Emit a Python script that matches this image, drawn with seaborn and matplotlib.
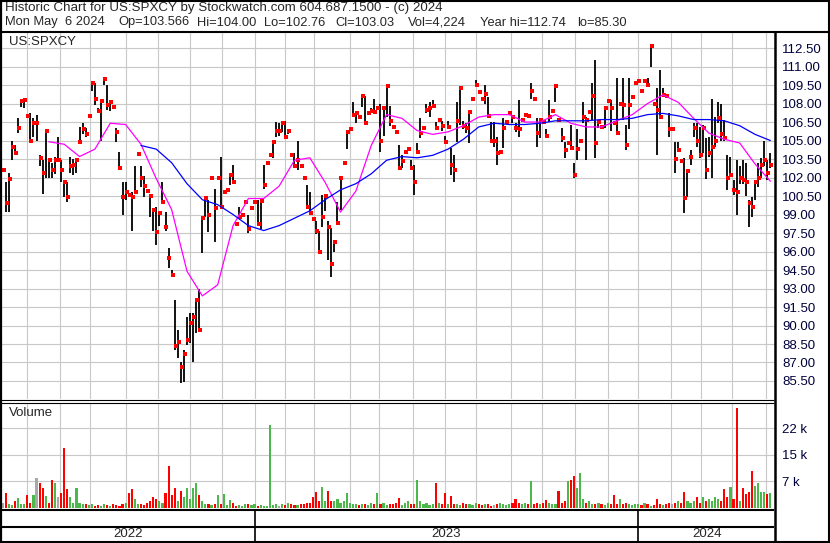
import numpy as np
import pandas as pd
import matplotlib
matplotlib.use("Agg")
import matplotlib.pyplot as plt
from matplotlib.lines import Line2D
import seaborn as sns

# exchange holidays inside the window (no sessions on these days)
HOLIDAYS = ["2022-05-30", "2022-06-20", "2022-07-04", "2022-09-05", "2022-11-24",
            "2022-12-26", "2023-01-02", "2023-01-16", "2023-02-20", "2023-04-07",
            "2023-05-29", "2023-06-19", "2023-07-04", "2023-09-04", "2023-11-23",
            "2023-12-25", "2024-01-01", "2024-01-15", "2024-02-19", "2024-03-29"]
FIRST_DAY = "2022-05-06"
LAST_DAY = "2024-05-06"

# one bar per two sessions left to right
HIGH = [102.6, 101.6, 102.4, 105.0, 104.6, 106.8, 108.4, 108.4, 107.0, 107.2,
        106.8, 107.1, 103.8, 103.4, 105.9, 103.4, 103.2, 103.7, 105.3, 103.4,
        101.8, 101.6, 103.7, 103.5, 103.6, 106.1, 106.4, 106.0, 107.0, 109.7,
        109.7, 107.6, 108.4, 110.0, 109.5, 108.1, 107.7, 106.0, 104.1, 101.6,
        101.6, 100.6, 100.8, 102.9, 103.9, 102.9, 102.1, 100.9, 100.5, 99.4,
        99.6, 99.1, 101.6, 99.2, 96.3, 94.5, 92.1, 89.6, 87.0, 88.0,
        90.7, 91.0, 91.0, 92.2, 93.0, 98.7, 100.3, 100.2, 102.0, 101.1,
        102.0, 103.7, 100.8, 101.0, 102.4, 103.0, 98.2, 99.6, 99.0, 100.0,
        99.0, 99.5, 100.0, 100.2, 100.2, 103.0, 103.2, 103.8, 104.9, 106.5,
        106.4, 106.5, 106.6, 105.9, 103.8, 104.0, 105.0, 102.9, 102.0, 101.4,
        100.8, 98.6, 98.5, 97.7, 100.6, 100.5, 98.5, 97.9, 96.9, 100.0,
        102.0, 103.3, 105.7, 105.9, 108.1, 107.2, 106.9, 108.7, 108.6, 107.2,
        107.6, 108.4, 107.6, 108.0, 107.6, 109.4, 107.8, 106.1, 105.7, 104.6,
        103.8, 104.1, 104.3, 103.4, 103.0, 104.8, 106.8, 106.0, 108.0, 108.1,
        108.3, 106.5, 106.7, 106.6, 105.4, 106.6, 104.4, 103.8, 108.1, 109.3,
        106.6, 106.4, 107.3, 108.4, 109.9, 108.9, 108.4, 109.5, 108.5, 106.5,
        106.5, 105.3, 104.1, 106.8, 106.5, 107.2, 107.0, 106.4, 108.3, 106.7,
        107.1, 107.0, 109.7, 108.4, 106.8, 106.7, 106.5, 105.9, 108.3, 107.4,
        109.4, 106.7, 106.0, 104.9, 104.8, 106.3, 103.2, 105.9, 105.0, 108.1,
        106.9, 107.3, 109.7, 111.5, 106.6, 106.1, 107.7, 108.2, 108.3, 106.4,
        110.1, 108.0, 110.1, 106.3, 110.1, 108.5, 109.7, 109.8, 109.0, 109.8,
        110.1, 112.74, 108.0, 109.3, 110.7, 109.3, 108.6, 107.2, 105.9, 104.9,
        104.9, 103.3, 103.6, 102.5, 104.2, 106.4, 106.4, 106.1, 106.3, 105.2,
        105.3, 108.4, 106.9, 108.1, 108.0, 106.7, 103.8, 103.7, 101.8, 103.4,
        102.9, 103.4, 103.2, 100.2, 100.4, 101.6, 103.2, 103.6, 105.0, 103.4, 104.0]
LOW = [102.6, 99.2, 99.2, 103.4, 104.0, 105.6, 107.7, 107.6, 107.0, 104.8,
       105.3, 105.0, 102.9, 100.7, 102.0, 102.0, 102.0, 102.3, 103.4, 101.6,
       100.4, 100.0, 102.4, 102.2, 102.4, 104.8, 105.5, 105.3, 107.0, 109.0,
       107.9, 107.2, 105.0, 109.5, 107.5, 107.4, 107.7, 104.9, 102.8, 99.0,
       100.2, 100.6, 97.7, 100.8, 103.9, 101.2, 100.4, 100.9, 98.8, 97.7,
       96.5, 98.1, 99.9, 97.7, 94.7, 94.1, 88.0, 87.4, 85.3, 85.4,
       88.4, 88.6, 87.0, 89.4, 89.6, 95.9, 98.8, 97.6, 102.0, 96.8,
       102.0, 99.6, 100.8, 101.0, 101.4, 101.6, 98.2, 98.6, 99.0, 100.0,
       97.5, 99.5, 100.0, 98.1, 97.8, 101.1, 103.2, 103.8, 103.6, 105.3,
       105.4, 105.7, 105.2, 105.5, 103.8, 102.9, 102.6, 102.9, 102.0, 99.5,
       99.1, 98.6, 97.4, 96.0, 98.0, 99.3, 95.3, 93.9, 96.0, 98.3,
       99.4, 103.0, 104.3, 105.9, 106.9, 106.4, 106.9, 107.7, 106.4, 107.2,
       107.3, 107.2, 107.6, 104.1, 105.4, 106.9, 106.2, 106.1, 105.7, 102.6,
       102.8, 104.1, 104.3, 102.6, 100.6, 103.9, 105.2, 106.0, 107.2, 106.9,
       107.6, 105.9, 106.7, 105.8, 104.7, 105.9, 102.2, 101.6, 104.9, 106.3,
       105.9, 105.6, 104.8, 108.4, 109.5, 108.9, 108.4, 108.0, 106.9, 104.9,
       104.5, 103.0, 104.1, 104.4, 106.5, 107.2, 106.4, 105.7, 105.3, 106.7,
       107.1, 107.0, 108.4, 108.4, 104.5, 105.2, 106.5, 105.3, 106.5, 107.4,
       108.1, 106.7, 104.9, 103.6, 104.8, 104.4, 102.0, 103.4, 105.0, 106.4,
       103.4, 107.3, 106.7, 103.6, 106.0, 106.1, 106.0, 108.2, 105.8, 106.4,
       105.6, 108.0, 106.7, 104.2, 105.9, 108.5, 109.7, 109.8, 109.0, 109.8,
       109.5, 111.0, 108.0, 103.8, 106.8, 108.7, 108.6, 105.3, 105.9, 102.4,
       104.2, 103.3, 99.1, 100.4, 103.0, 105.3, 104.5, 103.6, 104.0, 101.9,
       103.7, 102.0, 104.5, 106.4, 105.0, 105.0, 101.0, 102.2, 100.6, 99.0,
       101.5, 101.5, 100.5, 98.0, 98.8, 100.2, 101.2, 102.0, 102.9, 101.8, 102.76]
CLOSE = [102.6, 99.9, 101.9, 104.5, 104.0, 106.0, 108.2, 108.3, 107.0, 105.0,
         106.4, 106.4, 103.6, 102.4, 105.8, 103.4, 102.6, 103.4, 103.4, 102.6,
         101.6, 100.4, 102.9, 103.0, 103.4, 104.9, 105.9, 105.5, 107.0, 109.7,
         108.4, 107.4, 108.2, 110.0, 107.9, 108.1, 107.7, 105.7, 102.8, 100.4,
         100.8, 100.6, 100.4, 100.8, 103.9, 102.0, 101.3, 100.9, 100.5, 99.4,
         97.6, 99.1, 100.0, 98.0, 95.5, 94.1, 88.3, 88.7, 86.6, 87.7,
         88.8, 90.2, 90.7, 92.1, 89.6, 98.7, 100.3, 99.0, 102.0, 99.5,
         102.0, 99.6, 100.8, 101.0, 102.2, 101.6, 98.2, 98.8, 99.0, 100.0,
         97.8, 99.5, 100.0, 98.2, 100.1, 101.4, 103.2, 103.8, 104.9, 105.8,
         105.8, 106.4, 105.3, 105.8, 103.8, 102.9, 103.4, 102.9, 102.0, 99.6,
         99.1, 98.6, 97.7, 96.0, 98.8, 100.5, 98.0, 95.0, 96.8, 98.3,
         102.0, 103.2, 105.7, 105.9, 107.1, 107.2, 106.9, 108.6, 106.4, 107.2,
         107.4, 107.3, 107.6, 105.0, 107.6, 109.4, 106.6, 106.1, 105.7, 102.8,
         103.3, 104.1, 104.3, 102.8, 101.6, 104.1, 105.6, 106.0, 107.5, 107.6,
         107.8, 106.0, 106.7, 106.2, 104.9, 106.1, 103.0, 102.6, 106.6, 109.3,
         106.2, 106.0, 107.3, 108.4, 109.5, 108.9, 108.4, 108.8, 107.0, 105.0,
         105.0, 104.0, 104.1, 106.0, 106.5, 107.2, 106.9, 106.0, 105.9, 106.7,
         107.1, 107.0, 109.0, 108.4, 105.6, 106.7, 106.5, 105.4, 106.9, 107.4,
         109.4, 106.7, 105.2, 104.2, 104.8, 104.4, 102.2, 104.3, 105.0, 106.9,
         106.7, 107.3, 108.6, 104.8, 106.5, 106.1, 107.6, 108.2, 107.6, 106.4,
         105.6, 108.0, 107.9, 104.6, 107.9, 108.5, 109.7, 109.8, 109.0, 109.8,
         109.5, 112.7, 108.0, 107.5, 106.9, 108.7, 108.6, 105.9, 105.9, 103.5,
         104.2, 103.3, 100.3, 102.5, 103.7, 106.0, 105.0, 103.8, 106.0, 102.6,
         104.0, 104.5, 105.0, 106.8, 105.5, 105.2, 102.0, 102.2, 101.0, 100.8,
         102.0, 101.8, 101.6, 99.9, 99.6, 101.6, 102.0, 103.0, 103.4, 102.4, 103.03]
VOLUME_K = [1.5, 4.0, 1.2, 0.8, 2.0, 2.8, 1.0, 1.2, 3.7, 1.5,
            3.7, 8.2, 6.8, 5.6, 3.4, 1.5, 7.6, 7.0, 3.0, 4.0,
            16.6, 5.2, 3.0, 1.5, 5.6, 1.5, 1.0, 1.2, 0.8, 1.0,
            0.6, 0.8, 0.5, 1.0, 0.7, 0.6, 1.2, 0.8, 0.6, 1.0,
            1.5, 4.2, 5.2, 2.5, 1.2, 1.0, 0.8, 1.5, 2.0, 3.0,
            2.5, 2.0, 1.5, 4.2, 11.6, 3.5, 5.6, 2.0, 4.8, 3.0,
            5.6, 2.5, 5.6, 7.0, 3.5, 2.0, 1.0, 1.2, 0.8, 1.0,
            3.5, 1.0, 3.8, 0.8, 2.2, 1.5, 0.6, 0.8, 0.5, 1.0,
            1.2, 0.8, 1.0, 0.5, 0.8, 0.6, 0.5, 22.8, 0.8, 1.0,
            0.6, 1.2, 0.8, 1.5, 1.0, 0.7, 0.8, 1.2, 1.0, 1.5,
            1.5, 3.0, 4.5, 2.0, 5.8, 2.0, 4.8, 2.0, 1.8, 2.5,
            1.5, 2.0, 4.2, 1.5, 1.0, 1.2, 0.8, 1.0, 1.2, 0.8,
            1.5, 1.0, 4.0, 1.2, 1.5, 0.8, 1.2, 1.0, 1.5, 2.7,
            0.8, 1.5, 2.0, 1.2, 1.0, 7.6, 2.0, 1.0, 1.5, 0.8,
            1.2, 7.0, 1.5, 1.0, 4.0, 1.2, 3.3, 1.2, 1.0, 0.8,
            1.5, 1.0, 1.2, 0.8, 1.5, 1.0, 0.8, 1.2, 1.0, 0.6,
            0.8, 1.0, 1.5, 1.2, 0.8, 1.0, 1.5, 2.5, 1.5, 1.0,
            1.5, 1.0, 7.3, 1.2, 1.5, 1.0, 1.5, 2.2, 1.5, 1.0,
            1.2, 4.8, 1.5, 2.0, 7.3, 7.6, 8.7, 5.6, 9.6, 2.5,
            1.5, 2.0, 1.2, 1.0, 1.5, 1.2, 0.8, 1.5, 1.0, 3.5,
            1.2, 2.5, 1.0, 1.5, 1.0, 0.8, 1.2, 1.0, 0.8, 1.5,
            1.0, 0.6, 0.8, 2.5, 1.0, 0.8, 1.2, 1.5, 1.0, 1.5,
            2.0, 1.5, 4.5, 2.0, 1.5, 2.0, 3.0, 1.5, 3.0, 2.0,
            2.5, 2.0, 3.0, 2.5, 2.0, 5.1, 3.0, 5.8, 2.5, 27.4,
            2.0, 5.4, 3.9, 4.5, 10.1, 6.1, 6.8, 4.5, 4.5, 3.9, 4.224]

# moving averages, read every fifth bar
MA_FAST_FROM = 15
MA_FAST = [104.9, 104.7, 103.7, 104.3, 106.4, 106.3, 104.7, 101.9, 99.4, 94.4,
           92.4, 93.3, 98.1, 100.3, 100.3, 101.3, 103.4, 103.6, 101.6, 99.2,
           100.9, 104.6, 107.1, 106.8, 105.8, 105.5, 105.7, 106.2, 106.9, 107.1,
           107.1, 106.5, 106.5, 107.1, 106.4, 106.1, 106.1, 106.6, 107.1, 108.0,
           108.7, 108.1, 106.8, 105.6, 105.1, 104.8, 103.1, 101.7]
MA_SLOW_FROM = 45
MA_SLOW = [104.6, 104.3, 103.2, 101.5, 100.2, 99.8, 99.0, 98.1, 97.7, 98.1,
           98.7, 99.3, 100.2, 101.0, 101.5, 102.3, 103.4, 103.7, 103.6, 103.8,
           104.3, 105.1, 106.1, 106.4, 106.3, 106.3, 106.4, 106.6, 106.6, 106.6,
           106.7, 106.7, 106.8, 107.1, 107.2, 107.0, 106.7, 106.7, 106.6, 106.2,
           105.5, 105.0]

VOL_TICKS = [22 / 3, 44 / 3, 22]
VOL_TICK_LABELS = ["7 k", "15 k", "22 k"]
TITLE = "Historic Chart for US:SPXCY by Stockwatch.com 604.687.1500 - (c) 2024"
QUOTE = ["Mon May  6 2024", "Op=103.566", "Hi=104.00", "Lo=102.76", "Cl=103.03",
         "Vol=4,224", "Year hi=112.74", "lo=85.30"]
QUOTE_X = [5, 118, 197, 264, 335, 408, 480, 577]

GRID = "#c8c8c8"
LABEL = "#00003a"
W, H = 830, 543

sns.set_style("white")
plt.rcParams["font.family"] = ["Liberation Sans", "DejaVu Sans"]

days = pd.bdate_range(FIRST_DAY, LAST_DAY, freq="C", holidays=HOLIDAYS)
bar_x = np.arange(len(days) - 1, -1, -2)[::-1]
assert len(bar_x) == len(CLOSE) == len(HIGH) == len(LOW) == len(VOLUME_K)
month_starts = [i for i in range(1, len(days)) if days[i].month != days[i - 1].month]
year_starts = [i for i in month_starts if days[i].month == 1]
x_lim = (0.5, 504)

fig = plt.figure(figsize=(W / 100, H / 100), dpi=100)


def box(left, top, right, bottom):
    return [left / W, 1 - bottom / H, (right - left) / W, (bottom - top) / H]


def fig_line(x0, y0, x1, y1, lw):
    fig.add_artist(Line2D([x0 / W, x1 / W], [1 - y0 / H, 1 - y1 / H], color="black",
                          lw=lw, transform=fig.transFigure, solid_capstyle="butt"))


ax = fig.add_axes(box(2, 33, 775, 399))
axv = fig.add_axes(box(2, 403, 775, 508))
axd = fig.add_axes(box(2, 510, 775, 541))

for a in (ax, axv, axd):
    a.set_xlim(*x_lim)
    for s in a.spines.values():
        s.set_visible(False)
    a.set_xticks(month_starts)
    a.tick_params(axis="x", labelbottom=False, length=0)

# price panel
ax.set_ylim(84.04, 113.72)
price_ticks = np.arange(85.5, 112.6, 1.5)
ax.yaxis.tick_right()
ax.set_yticks(price_ticks)
ax.set_yticklabels([f"{v:.2f}" for v in price_ticks])
ax.tick_params(axis="y", length=0, pad=5, labelsize=9.5, labelcolor=LABEL)
ax.grid(True, color=GRID, lw=0.8)
ax.set_axisbelow(True)

ax.vlines(bar_x, LOW, HIGH, color="black", lw=1.3, zorder=2)
sns.scatterplot(x=bar_x + 0.6, y=CLOSE, marker="s", s=6, color="red",
                linewidth=0, ax=ax, zorder=3)
sns.lineplot(x=bar_x[MA_FAST_FROM::5], y=MA_FAST, color="#ff00ff", lw=0.9,
             estimator=None, sort=False, ax=ax, zorder=4)
sns.lineplot(x=bar_x[MA_SLOW_FROM::5], y=MA_SLOW, color="#0000ff", lw=0.9,
             estimator=None, sort=False, ax=ax, zorder=4)
ax.text(7 / 773, 1 - 9 / 366, "US:SPXCY", transform=ax.transAxes, fontsize=9.5,
        va="center", ha="left")

# volume panel: green on an up close, red on a down close, grey if unchanged
colors = ["#a8a8a8"]
for prev, cur in zip(CLOSE[:-1], CLOSE[1:]):
    colors.append("#4cb84c" if cur > prev else "#ff0000" if cur < prev else "#a8a8a8")
axv.bar(bar_x, VOLUME_K, width=1.4, color=colors, lw=0, zorder=2)
axv.set_ylim(0, 28.9)
axv.yaxis.tick_right()
axv.set_yticks(VOL_TICKS)
axv.set_yticklabels(VOL_TICK_LABELS)
axv.tick_params(axis="y", length=0, pad=5, labelsize=9.5, labelcolor=LABEL)
axv.grid(True, color=GRID, lw=0.8)
axv.set_axisbelow(True)
axv.text(7 / 773, 1 - 10 / 105, "Volume", transform=axv.transAxes, fontsize=9.5,
         va="center", ha="left")

# date band
axd.set_ylim(0, 1)
axd.set_yticks([])
axd.vlines(year_starts, 0, 1, color="black", lw=1.2)
bounds = [x_lim[0]] + year_starts + [x_lim[1]]
for left, right in zip(bounds[:-1], bounds[1:]):
    axd.text((left + right) / 2, 0.22, str(days[int(max(left, 0)) + 1].year),
             ha="center", va="center", fontsize=9.5)

# header text
fig.text(5 / W, 1 - 8.5 / H, TITLE, fontsize=9.6, va="center", ha="left")
for txt, px in zip(QUOTE, QUOTE_X):
    fig.text(px / W, 1 - 22.5 / H, txt, fontsize=9.3, va="center", ha="left")

# frame and panel separators
fig_line(0, 0.7, W, 0.7, 1.5)
fig_line(0, H - 0.7, W, H - 0.7, 1.5)
fig_line(0.8, 0, 0.8, H, 1.6)
fig_line(W - 0.7, 0, W - 0.7, H, 1.5)
fig_line(0, 31.5, W, 31.5, 1.5)
fig_line(774.5, 31, 774.5, H, 1.8)
fig_line(0, 400.3, 774, 400.3, 0.8)
fig_line(0, 402.6, 774, 402.6, 0.8)
fig_line(0, 509.5, 774, 509.5, 1.5)
fig_line(0, 526.5, 774, 526.5, 1.5)

fig.savefig("out.png", dpi=100)
